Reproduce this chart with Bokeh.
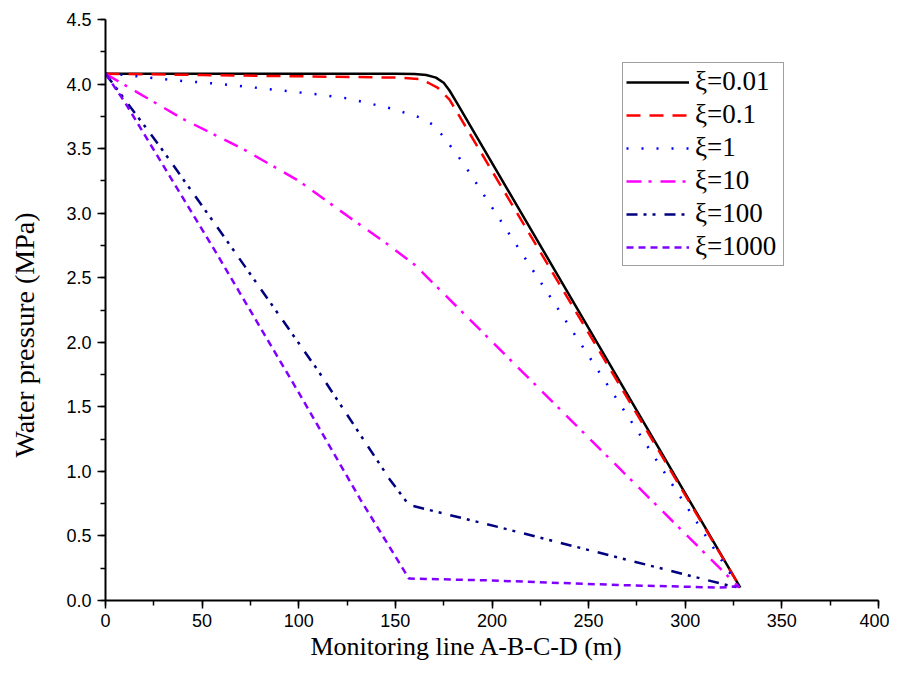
from bokeh.plotting import figure
from bokeh.models import Range1d, SingleIntervalTicker, NumeralTickFormatter, Legend, LegendItem, Title
from bokeh.embed import file_html
from bokeh.resources import INLINE

# ---- data ----
x_001 = [0, 50, 100, 150, 160, 166, 171, 175, 178, 182, 328.5]
y_001 = [4.08, 4.08, 4.08, 4.08, 4.078, 4.07, 4.05, 4.01, 3.95, 3.85, 0.1]

x_01 = [0, 50, 100, 150, 162, 167, 172, 178, 328.5]
y_01 = [4.08, 4.07, 4.06, 4.05, 4.04, 4.01, 3.97, 3.88, 0.1]

x_1 = [0, 10, 35, 60, 85, 110, 125, 148, 163, 170, 175, 180, 185, 328]
y_1 = [4.08, 4.07, 4.03, 4.0, 3.96, 3.92, 3.89, 3.81, 3.74, 3.68, 3.59, 3.49, 3.39, 0.1]

x_10 = [0, 16, 40, 72, 100, 126, 145, 160, 328]
y_10 = [4.08, 3.94, 3.73, 3.49, 3.25, 2.97, 2.77, 2.6, 0.1]

x_100 = [0, 28, 65, 110, 147, 157, 203, 266, 324, 328]
y_100 = [4.08, 3.52, 2.74, 1.78, 0.94, 0.74, 0.57, 0.33, 0.11, 0.1]

x_1000 = [0, 10, 57, 100, 132, 157, 200, 265, 318, 328]
y_1000 = [4.08, 3.86, 2.70, 1.61, 0.78, 0.17, 0.155, 0.12, 0.10, 0.11]

labels = ["ξ=0.01", "ξ=0.1", "ξ=1", "ξ=10", "ξ=100", "ξ=1000"]
x_title = "Monitoring line A-B-C-D (m)"
y_title = "Water pressure (MPa)"
x_ticks_interval = 50
y_ticks_interval = 0.5

series = [
    (x_001, y_001, "black", "solid", 2.5),
    (x_01, y_01, "#FF0000", "14 9", 2.5),
    (x_1, y_1, "#0000FF", "2 13", 2.5),
    (x_10, y_10, "#FF00FF", "15 7 3 9", 2.5),
    (x_100, y_100, "#000080", "11 6 3 6 3 9", 2.5),
    (x_1000, y_1000, "#8000FF", "7 5", 2.5),
]

p = figure(width=889, height=682, output_backend="svg", toolbar_location=None,
           x_range=Range1d(0, 400), y_range=Range1d(0, 4.5),
           min_border_left=105, min_border_right=11, min_border_top=19, min_border_bottom=82)
p.outline_line_color = None
p.xgrid.visible = False
p.ygrid.visible = False

items = []
for (xs, ys, c, dash, w), lab in zip(series, labels):
    r = p.line(xs, ys, line_color=c, line_dash=dash, line_width=w)
    items.append(LegendItem(label=lab, renderers=[r]))

p.xaxis.ticker = SingleIntervalTicker(interval=x_ticks_interval, num_minor_ticks=2)
p.yaxis.ticker = SingleIntervalTicker(interval=y_ticks_interval, num_minor_ticks=2)
p.xaxis.formatter = NumeralTickFormatter(format="0")
p.yaxis.formatter = NumeralTickFormatter(format="0.0")

for ax in (p.xaxis[0], p.yaxis[0]):
    ax.axis_line_width = 2
    ax.axis_line_color = "black"
    ax.major_tick_line_width = 1.5
    ax.minor_tick_line_width = 1.5
    ax.major_tick_line_color = "black"
    ax.minor_tick_line_color = "black"
    ax.major_tick_in = 0
    ax.major_tick_out = 8
    ax.minor_tick_in = 0
    ax.minor_tick_out = 5
    ax.major_label_text_font = "Liberation Sans"
    ax.major_label_text_font_size = "18px"
    ax.major_label_text_color = "black"
p.xaxis.major_label_standoff = 5
p.yaxis.major_label_standoff = 6
# invisible spacer label so the y title sits further left
p.yaxis.axis_label = " "
p.yaxis.axis_label_text_font_size = "1px"
p.yaxis.axis_label_standoff = 19

# axis titles as Title panels so they can sit off-centre as in the reference
p.add_layout(Title(text=x_title, align="left", offset=205, standoff=0,
                   text_font="Liberation Serif", text_font_size="26px",
                   text_font_style="normal", text_color="black"), "below")
p.add_layout(Title(text=y_title, align="left", offset=143, standoff=2,
                   text_font="Liberation Serif", text_font_size="28px",
                   text_font_style="normal", text_color="black"), "left")

legend = Legend(items=items, location=(517, 334))
legend.label_text_font = "Liberation Serif"
legend.label_text_font_size = "27px"
legend.label_text_color = "black"
legend.glyph_width = 63
legend.glyph_height = 20
legend.label_height = 20
legend.label_width = 85
legend.label_standoff = 6
legend.spacing = 2
legend.padding = 3
legend.margin = 0
legend.border_line_color = "#404040"
legend.border_line_width = 1.5
legend.background_fill_alpha = 1
p.add_layout(legend)

open("out.html", "w").write(file_html(p, INLINE))
